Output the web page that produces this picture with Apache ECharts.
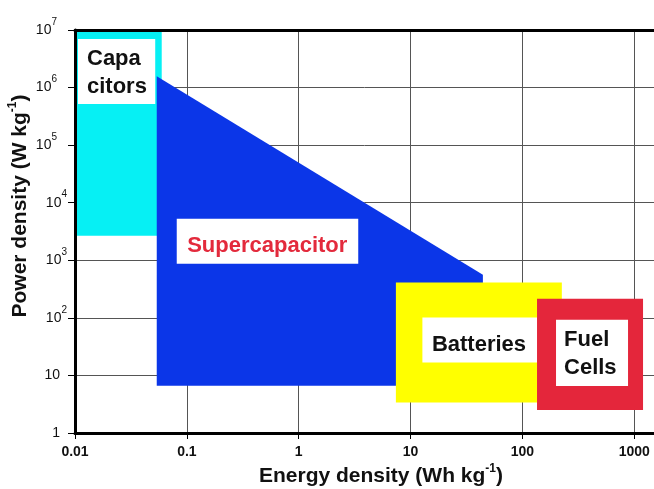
<!DOCTYPE html>
<html><head><meta charset="utf-8">
<script src="https://cdn.jsdelivr.net/npm/echarts@6/dist/echarts.min.js"></script>
<style>html,body{margin:0;padding:0;background:#fff}#c{width:654px;height:489px}</style>
</head><body><div id="c"></div>
<script>
// ---- data ----
const xTickLabels = ['0.01', '0.1', '1', '10', '100', '1000'];
const yTickExponents = [0, 1, 2, 3, 4, 5, 6, 7];
const xRange = [0.01, 1500];
const yRange = [1, 1e7];
const capacitorsX = [0.01, 0.0596];
const capacitorsY = [2670, 1e7];
const supercapX = [0.0538, 44.3, 44.3, 0.0538];
const supercapY = [1.57e6, 560, 6.6, 6.6];
const batteriesX = [7.39, 225];
const batteriesY = [3.37, 411];
const fuelCellsX = [135, 1197];
const fuelCellsY = [2.51, 214];

const FONT = "'Liberation Sans', Arial, Helvetica, sans-serif";
const chart = echarts.init(document.getElementById('c'));

function isPow10(v) { const l = Math.log10(v); return Math.abs(l - Math.round(l)) < 1e-6; }

function rectFrom(api) {
  const p0 = api.coord([api.value(0), api.value(1)]);
  const p1 = api.coord([api.value(2), api.value(3)]);
  const x = Math.min(p0[0], p1[0]), y = Math.min(p0[1], p1[1]);
  return { x: x, y: y, width: Math.abs(p1[0] - p0[0]), height: Math.abs(p1[1] - p0[1]) };
}
function labelText(text, x, y, color, align) {
  return { type: 'text', style: { text: text, x: x, y: y, fill: color, align: align || 'left',
    verticalAlign: 'top', font: 'bold 22px ' + FONT, lineHeight: 28 } };
}

const baseAxis = { type: 'log', logBase: 10 };

const option = {
  animation: false,
  backgroundColor: '#fff',
  grid: { left: 75, right: 0, top: 30, bottom: 56 },
  xAxis: [
    Object.assign({}, baseAxis, {
      min: xRange[0], max: xRange[1], position: 'bottom', z: 10,
      axisLine: { show: true, lineStyle: { color: '#000', width: 3 } },
      axisTick: { show: true, length: 6, lineStyle: { color: '#000', width: 1 } },
      minorTick: { show: false },
      splitLine: { show: false },
      axisLabel: { margin: 12, showMaxLabel: false, color: '#111', fontFamily: FONT, fontWeight: 'bold', fontSize: 14,
        formatter: function (v) { if (!isPow10(v)) return ''; const i = Math.round(Math.log10(v)) + 2; return xTickLabels[i] || ''; } }
    }),
    Object.assign({}, baseAxis, {
      min: xRange[0], max: xRange[1], position: 'top', z: 10,
      axisLine: { show: true, lineStyle: { color: '#000', width: 3 } },
      axisTick: { show: false }, axisLabel: { show: false }, splitLine: { show: false }
    }),
    Object.assign({}, baseAxis, {
      min: xRange[0], max: xRange[1], position: 'bottom', z: 0,
      axisLine: { show: false }, axisTick: { show: false }, axisLabel: { show: false },
      splitLine: { show: true, lineStyle: { color: '#555', width: 1 } }
    })
  ],
  yAxis: [
    Object.assign({}, baseAxis, {
      min: yRange[0], max: yRange[1], position: 'left', z: 10,
      axisLine: { show: true, lineStyle: { color: '#000', width: 3 } },
      axisTick: { show: true, length: 7, lineStyle: { color: '#000', width: 1 } },
      splitLine: { show: false },
      axisLabel: { margin: 8, color: '#111', fontFamily: FONT,
        formatter: function (v) {
          if (!isPow10(v)) return '';
          const n = Math.round(Math.log10(v));
          if (yTickExponents.indexOf(n) < 0) return '';
          if (n === 0) return '{p|1}';
          if (n === 1) return '{p|10}';
          if (n >= 5) return '{b|10}{sp|' + n + '}';
          return '{b|10}{s|' + n + '}';
        },
        rich: {
          p: { fontSize: 14, fontFamily: FONT, color: '#111', padding: [0, 7, 0, 0] },
          b: { fontSize: 14, fontFamily: FONT, color: '#111', lineHeight: 26 },
          s: { fontSize: 10, fontFamily: FONT, color: '#111', verticalAlign: 'top', lineHeight: 11 },
          sp: { fontSize: 10, fontFamily: FONT, color: '#111', verticalAlign: 'top', lineHeight: 11, padding: [0, 10, 0, 0] }
        } }
    }),
    Object.assign({}, baseAxis, {
      min: yRange[0], max: yRange[1], position: 'left', z: 0,
      axisLine: { show: false }, axisTick: { show: false }, axisLabel: { show: false },
      splitLine: { show: true, lineStyle: { color: '#555', width: 1 } }
    })
  ],
  graphic: [
    { type: 'text', x: 381, y: 476, z: 20,
      style: { text: '{a|Energy density (Wh kg}{s|-1}{a|)}', align: 'center', verticalAlign: 'middle',
        rich: { a: { font: 'bold 21px ' + FONT, fill: '#111', lineHeight: 26 },
                s: { font: 'bold 12px ' + FONT, fill: '#111', verticalAlign: 'top', lineHeight: 14 } } } },
    { type: 'text', x: 20, y: 206, rotation: Math.PI / 2, z: 20,
      style: { text: '{a|Power density (W kg}{s|-1}{a|)}', align: 'center', verticalAlign: 'middle',
        rich: { a: { font: 'bold 21px ' + FONT, fill: '#111', lineHeight: 26 },
                s: { font: 'bold 12px ' + FONT, fill: '#111', verticalAlign: 'top', lineHeight: 14 } } } }
  ],
  series: [
    { type: 'custom', name: 'Capacitors', xAxisIndex: 0, yAxisIndex: 0, z: 2,
      data: [[capacitorsX[0], capacitorsY[0], capacitorsX[1], capacitorsY[1]]],
      renderItem: function (params, api) {
        const r = rectFrom(api);
        const bx = r.x + 3, by = r.y + 9;
        return { type: 'group', children: [
          { type: 'rect', shape: r, style: { fill: '#06f0f4' } },
          { type: 'rect', shape: { x: bx, y: by, width: r.width - 9.5, height: 65 }, style: { fill: '#fff' } },
          labelText('Capa\ncitors', bx + 9, by + 6, '#111')
        ] };
      } },
    { type: 'custom', name: 'Supercapacitor', xAxisIndex: 0, yAxisIndex: 0, z: 3,
      data: [[supercapX[0], supercapY[0], supercapX[1], supercapY[1], supercapX[2], supercapY[2], supercapX[3], supercapY[3]]],
      renderItem: function (params, api) {
        const pts = [];
        for (let i = 0; i < 4; i++) pts.push(api.coord([api.value(2 * i), api.value(2 * i + 1)]));
        const left = pts[0][0], bottom = pts[2][1];
        const bx = left + 20, by = bottom - 167;
        return { type: 'group', children: [
          { type: 'polygon', shape: { points: pts }, style: { fill: '#0b36e8' } },
          { type: 'rect', shape: { x: bx, y: by, width: 181.5, height: 45 }, style: { fill: '#fff' } },
          { type: 'text', style: { text: 'Supercapacitor', x: bx + 90.5, y: by + 27, fill: '#e32a3c', align: 'center',
            verticalAlign: 'middle', font: 'bold 22px ' + FONT } }
        ] };
      } },
    { type: 'custom', name: 'Batteries', xAxisIndex: 0, yAxisIndex: 0, z: 4,
      data: [[batteriesX[0], batteriesY[0], batteriesX[1], batteriesY[1]]],
      renderItem: function (params, api) {
        const r = rectFrom(api);
        const bx = r.x + 26.5, by = r.y + 35;
        return { type: 'group', children: [
          { type: 'rect', shape: r, style: { fill: '#ffff00' } },
          { type: 'rect', shape: { x: bx, y: by, width: 125, height: 45 }, style: { fill: '#fff' } },
          { type: 'text', style: { text: 'Batteries', x: bx + 9.5, y: by + 27, fill: '#111', align: 'left',
            verticalAlign: 'middle', font: 'bold 22px ' + FONT } }
        ] };
      } },
    { type: 'custom', name: 'Fuel Cells', xAxisIndex: 0, yAxisIndex: 0, z: 5,
      data: [[fuelCellsX[0], fuelCellsY[0], fuelCellsX[1], fuelCellsY[1]]],
      renderItem: function (params, api) {
        const r = rectFrom(api);
        const bx = r.x + 19, by = r.y + 21;
        return { type: 'group', children: [
          { type: 'rect', shape: r, style: { fill: '#e4263b' } },
          { type: 'rect', shape: { x: bx, y: by, width: r.width - 34, height: r.height - 45 }, style: { fill: '#fff' } },
          labelText('Fuel\nCells', bx + 8, by + 6, '#111')
        ] };
      } }
  ]
};
chart.setOption(option);
</script>
</body></html>
